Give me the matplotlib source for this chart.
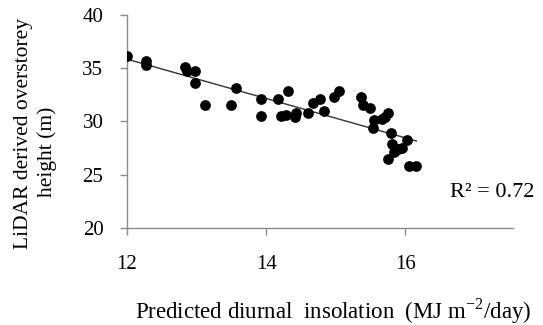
import numpy as np
import matplotlib
matplotlib.use("Agg")
import matplotlib.pyplot as plt

plt.rcParams['font.family'] = ['Liberation Serif', 'DejaVu Serif']

# insolation (MJ m-2/day) vs LiDAR overstorey height (m)
insolation = [12.00, 12.28, 12.28, 12.84, 12.86, 12.98, 12.98, 13.12, 13.50, 13.56,
              13.93, 13.93, 14.17, 14.31, 14.22, 14.29, 14.43, 14.42, 14.60, 14.67,
              14.77, 14.83, 14.97, 15.05, 15.36, 15.40, 15.50, 15.55, 15.54, 15.66,
              15.71, 15.75, 15.79, 15.81, 15.84, 15.90, 15.95, 16.03, 15.75, 16.05,
              16.16]
height = [36.1, 35.7, 35.3, 35.1, 34.75, 34.7, 33.6, 31.5, 31.5, 33.1,
          32.1, 30.55, 32.1, 32.9, 30.5, 30.6, 30.8, 30.4, 30.8, 31.75,
          32.1, 30.95, 32.25, 32.9, 32.25, 31.5, 31.25, 30.1, 29.4, 30.2,
          30.4, 30.75, 28.9, 27.9, 27.1, 27.4, 27.5, 28.2, 26.45, 25.8,
          25.8]

# trendline as drawn in the original
trend_x = [12.0, 16.16]
trend_slope = -1.85
trend_icept = 35.85 + 1.85 * 12.0
r2_text = "R\u00b2 = 0.72"

fig = plt.figure(figsize=(5.43, 3.25), dpi=100)
ax = fig.add_axes([0.2339, 0.2994, 0.7109, 0.6544])

ax.scatter(insolation, height, s=60, color='black', zorder=3, linewidths=0)
tx = np.array(trend_x)
ax.plot(tx, trend_slope * tx + trend_icept, color='#333333', lw=1.0, zorder=2)

ax.set_xlim(12, 17.55)
ax.set_ylim(20, 40)
ax.set_xticks([12, 14, 16])
ax.set_yticks([20, 25, 30, 35, 40])

for s in ['top', 'right']:
    ax.spines[s].set_visible(False)
for s in ['left', 'bottom']:
    ax.spines[s].set_color('#8c8c8c')
    ax.spines[s].set_linewidth(1.0)
ax.tick_params(axis='both', direction='out', length=5, width=1.0,
               color='#8c8c8c', labelsize=15)
ax.tick_params(axis='y', pad=12)
ax.tick_params(axis='x', pad=15)

fig.text(0.613, 1 - 318 / 325,
         "Predicted diurnal  insolation  (MJ m$^{\\mathregular{-2}}$/day)",
         fontsize=16.5, ha='center', va='baseline')
# y label, two lines placed separately as in the original
fig.text(24 / 543, 1 - 133 / 325, "LiDAR derived overstorey", fontsize=15.5,
         rotation=90, ha='center', va='center')
fig.text(47 / 543, 1 - 152 / 325, "height (m)", fontsize=15.5,
         rotation=90, ha='center', va='center')

ax.text(534 / 543, 1 - 192 / 325, r2_text, fontsize=16, ha='right', va='center',
        transform=fig.transFigure)

fig.savefig("out.png", dpi=100)
